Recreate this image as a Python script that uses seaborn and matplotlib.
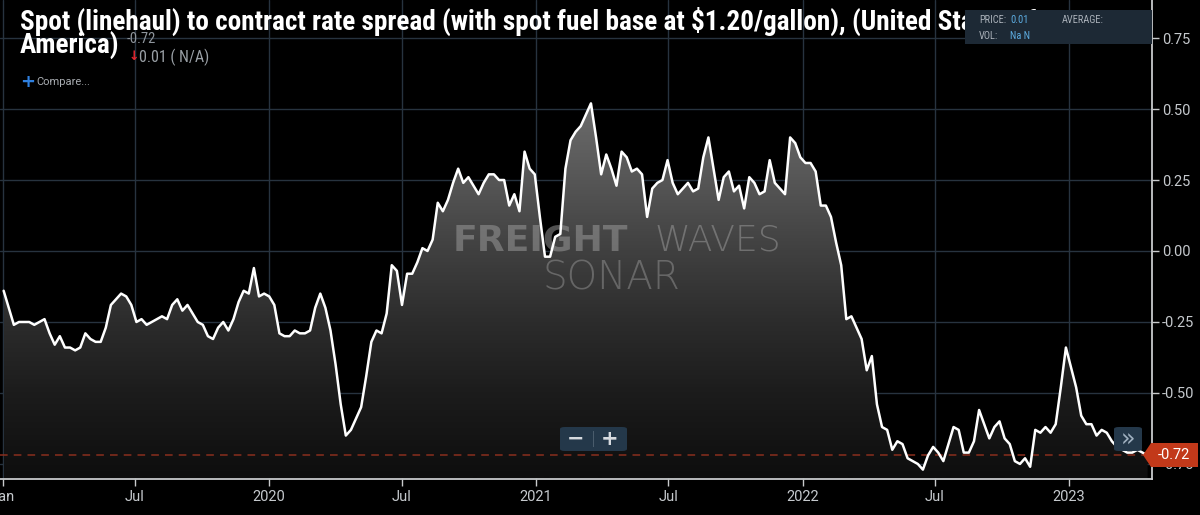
"""Spot (linehaul) to contract rate spread chart, SONAR dark style."""

import matplotlib

matplotlib.use("Agg")

import matplotlib.dates as mdates
import matplotlib.pyplot as plt
import numpy as np
import pandas as pd
import seaborn as sns
from matplotlib import font_manager
from matplotlib.colors import LinearSegmentedColormap
from matplotlib.patches import FancyBboxPatch, Polygon, Rectangle

# --- data (weekly values) ---
START_DATE = "2019-01-02"
SPREAD = [
    -0.14, -0.20, -0.26, -0.25, -0.25, -0.25, -0.26, -0.25, -0.24, -0.29,
    -0.33, -0.30, -0.34, -0.34, -0.35, -0.34, -0.29, -0.31, -0.32, -0.32,
    -0.27, -0.19, -0.17, -0.15, -0.16, -0.19, -0.25, -0.24, -0.26, -0.25,
    -0.24, -0.23, -0.24, -0.19, -0.17, -0.21, -0.19, -0.22, -0.25,
    -0.26, -0.30, -0.31, -0.27, -0.25, -0.28, -0.24, -0.18, -0.14, -0.15,
    -0.06, -0.16, -0.15, -0.16, -0.19, -0.29, -0.30, -0.30, -0.28, -0.29,
    -0.29, -0.28, -0.20, -0.15, -0.20, -0.28, -0.40, -0.54, -0.65, -0.63,
    -0.59, -0.55, -0.44, -0.32, -0.28, -0.29, -0.22, -0.05,
    -0.07, -0.19, -0.08, -0.08, -0.04, 0.01, 0.00, 0.04, 0.17, 0.14,
    0.18, 0.24, 0.29, 0.24, 0.26, 0.23, 0.20, 0.24, 0.27, 0.27,
    0.25, 0.25, 0.16, 0.20, 0.14, 0.35, 0.29, 0.27, 0.12, -0.02,
    -0.02, 0.05, 0.06, 0.29, 0.39, 0.42, 0.44, 0.48,
    0.52, 0.40, 0.27, 0.34, 0.29, 0.23, 0.35, 0.33, 0.28, 0.29,
    0.27, 0.12, 0.22, 0.24, 0.25, 0.32, 0.24, 0.20, 0.22, 0.24,
    0.21, 0.22, 0.33, 0.40, 0.29, 0.18, 0.26, 0.28, 0.21, 0.23,
    0.15, 0.26, 0.24, 0.20, 0.21, 0.32, 0.24, 0.22,
    0.20, 0.40, 0.38, 0.33, 0.31, 0.31, 0.28, 0.16, 0.16, 0.12,
    0.03, -0.05, -0.24, -0.23, -0.27, -0.31, -0.42, -0.37, -0.54, -0.62,
    -0.63, -0.70, -0.67, -0.68, -0.73, -0.74, -0.75, -0.77, -0.72, -0.69,
    -0.71, -0.74, -0.68, -0.62, -0.63, -0.71, -0.71, -0.67,
    -0.56, -0.61, -0.66, -0.62, -0.60, -0.66, -0.68, -0.74, -0.75, -0.73,
    -0.76, -0.63, -0.64, -0.62, -0.64, -0.61, -0.48, -0.34, -0.41, -0.48,
    -0.58, -0.61, -0.61, -0.65, -0.63, -0.64, -0.67, -0.69, -0.70, -0.71,
    -0.71, -0.70, -0.71, -0.72,
]
LAST_VALUE = -0.72

X_TICK_DATES = [
    "2019-01-01", "2019-07-01", "2020-01-01", "2020-07-01", "2021-01-01",
    "2021-07-01", "2022-01-01", "2022-07-01", "2023-01-01",
]
X_TICK_LABELS = ["Jan", "Jul", "2020", "Jul", "2021", "Jul", "2022", "Jul", "2023"]
Y_TICKS = [-0.75, -0.50, -0.25, 0.00, 0.25, 0.50, 0.75]

TITLE_LINE1 = "Spot (linehaul) to contract rate spread (with spot fuel base at $1.20/gallon), (United States of"
TITLE_LINE2 = "America)"

# --- style ---
W, H = 1200, 515
X_LIM = ("2018-12-28", "2023-04-25")
Y_LIM = (-0.803, 0.884)
GRID = "#27333f"
AXIS = "#c8cacc"
TICK_TXT = "#c5c9cd"
PANEL = "#24384a"

installed = {f.name for f in font_manager.fontManager.ttflist}
NARROW = next(
    (f for f in ["Roboto Condensed", "Liberation Sans Narrow", "DejaVu Sans Condensed"] if f in installed),
    "Roboto",
)


def fx(px):
    return px / W


def fy(py):
    return 1 - py / H


sns.set_theme(style="dark", rc={"axes.facecolor": "black", "figure.facecolor": "black"})
plt.rcParams["font.family"] = ["Roboto", "DejaVu Sans"]
plt.rcParams["axes.unicode_minus"] = False

df = pd.DataFrame(
    {
        "date": pd.date_range(START_DATE, periods=len(SPREAD), freq="7D"),
        "spread": SPREAD,
    }
)

fig = plt.figure(figsize=(W / 100, H / 100), dpi=100)
fig.patch.set_facecolor("black")
ax = fig.add_axes([0, 36 / H, 1152 / W, 479 / H])
ax.set_facecolor("black")

# gradient area under the line
xnum = mdates.date2num(df["date"])
verts = [(xnum[0], Y_LIM[0])] + list(zip(xnum, df["spread"])) + [(xnum[-1], Y_LIM[0])]
clip = Polygon(verts, closed=True, facecolor="none", edgecolor="none")
ax.add_patch(clip)
top = max(SPREAD)
stops = [(-0.80, "#0e0e0e"), (-0.50, "#1c1c1c"), (-0.25, "#2c2c2c"), (0.0, "#404040"), (0.25, "#565656"), (top, "#6c6c6c")]
cmap = LinearSegmentedColormap.from_list(
    "fill", [((v - stops[0][0]) / (top - stops[0][0]), c) for v, c in stops]
)
grad = np.linspace(1, 0, 300).reshape(-1, 1)
img = ax.imshow(
    grad, cmap=cmap, aspect="auto", origin="upper",
    extent=[xnum[0], xnum[-1], stops[0][0], top], zorder=1, interpolation="bilinear",
)
img.set_clip_path(clip)

# watermark
ax.text(0.393, 0.477, "FREIGHT", transform=ax.transAxes, fontsize=26, fontweight="bold",
        color="#a0a0a0", alpha=0.5, ha="left", va="baseline", zorder=3, family="DejaVu Sans")
ax.text(0.568, 0.477, "WAVES", transform=ax.transAxes, fontsize=26, fontweight="light",
        color="#a0a0a0", alpha=0.5, ha="left", va="baseline", zorder=3, family="DejaVu Sans")
ax.text(0.531, 0.395, "SONAR", transform=ax.transAxes, fontsize=28, fontweight="light",
        color="#a0a0a0", alpha=0.45, ha="center", va="baseline", zorder=3, family="DejaVu Sans")

# last-value dashed line and series
ax.axhline(LAST_VALUE, color="#8a2e1e", linestyle=(0, (5, 4)), linewidth=1.1, zorder=2)
sns.lineplot(data=df, x="date", y="spread", color="white", linewidth=1.8, ax=ax, zorder=4, legend=False)

ax.set_xlim(pd.Timestamp(X_LIM[0]), pd.Timestamp(X_LIM[1]))
ax.set_ylim(*Y_LIM)
ax.set_xticks(pd.to_datetime(X_TICK_DATES))
ax.set_xticklabels(X_TICK_LABELS)
ax.set_yticks(Y_TICKS)
ax.set_yticklabels([f"{v:.2f}" for v in Y_TICKS])
ax.yaxis.tick_right()
ax.set_xlabel("")
ax.set_ylabel("")

ax.grid(True, color=GRID, linewidth=1.0, zorder=0)
ax.set_axisbelow(True)
for side in ["top", "left"]:
    ax.spines[side].set_visible(False)
for side in ["bottom", "right"]:
    ax.spines[side].set_visible(True)
    ax.spines[side].set_color(AXIS)
    ax.spines[side].set_linewidth(1.3)
ax.tick_params(axis="x", direction="out", length=5, width=1, color=AXIS,
               labelcolor=TICK_TXT, labelsize=10.5, pad=3, bottom=True)
ax.tick_params(axis="y", direction="out", length=5, width=1, color=AXIS,
               labelcolor=TICK_TXT, labelsize=10.5, pad=2, right=True, left=False)

# title and header info (the title runs behind the price panel, as in the source)
fig.text(fx(20), fy(30), TITLE_LINE1, color="white", fontsize=19.6, fontweight="bold",
         family=[NARROW, "DejaVu Sans"], ha="left", va="baseline", zorder=4)
fig.text(fx(20), fy(54), TITLE_LINE2, color="white", fontsize=19.6, fontweight="bold",
         family=[NARROW, "DejaVu Sans"], ha="left", va="baseline", zorder=4)
fig.text(fx(127), fy(39), "-0.72", color="#8e959c", fontsize=10.5,
         family=[NARROW, "DejaVu Sans"], ha="left", va="center", zorder=4)
fig.text(fx(129), fy(57), "\u2193", color="#e3262e", fontsize=9, fontweight="bold",
         family="DejaVu Sans", ha="left", va="center", zorder=4)
fig.text(fx(139), fy(57), "0.01 ( N/A)", color="#9aa0a6", fontsize=11.5,
         family=[NARROW, "DejaVu Sans"], ha="left", va="center", zorder=4)
fig.text(fx(20), fy(82), "+", color="#2f80e0", fontsize=13, fontweight="bold",
         family="DejaVu Sans", ha="left", va="center", zorder=4)
fig.text(fx(36), fy(82), "Compare...", color="#a9adb2", fontsize=8,
         family="Roboto", ha="left", va="center", zorder=4)

# price panel
fig.add_artist(Rectangle((fx(965), fy(44)), fx(187), 34 / H, transform=fig.transFigure,
                         facecolor="#1d2935", edgecolor="none", zorder=5))
for px, py, txt, col in [
    (979, 20, "PRICE:", "#a9b0b8"), (1010, 20, "0.01", "#5dade2"),
    (1062, 20, "AVERAGE:", "#a9b0b8"), (979, 36, "VOL:", "#a9b0b8"), (1010, 36, "Na N", "#5dade2"),
]:
    fig.text(fx(px), fy(py), txt, color=col, fontsize=7.5, family=[NARROW, "DejaVu Sans"],
             ha="left", va="center", zorder=6)

# zoom buttons
fig.add_artist(FancyBboxPatch((fx(560), fy(451)), fx(67), 24 / H, boxstyle="round,pad=0,rounding_size=0.004",
                              transform=fig.transFigure, facecolor=PANEL, edgecolor="none", zorder=5))
fig.add_artist(Rectangle((fx(593), fy(447)), fx(1), 16 / H, transform=fig.transFigure,
                         facecolor="#4a5c6c", edgecolor="none", zorder=6))
fig.text(fx(576), fy(439), "\u2212", color="#d6dadf", fontsize=15, fontweight="bold",
         family="DejaVu Sans", ha="center", va="center", zorder=6)
fig.text(fx(610), fy(439), "+", color="#d6dadf", fontsize=15, fontweight="bold",
         family="DejaVu Sans", ha="center", va="center", zorder=6)
fig.add_artist(FancyBboxPatch((fx(1114), fy(451)), fx(28), 24 / H, boxstyle="round,pad=0,rounding_size=0.004",
                              transform=fig.transFigure, facecolor=PANEL, edgecolor="none", zorder=5))
fig.text(fx(1128), fy(440), "\u00bb", color="#9fb0c0", fontsize=17,
         family="DejaVu Sans", ha="center", va="center", zorder=6)

# last value tag on the right axis
tag = [(1143, 455), (1151, 443), (1198, 443), (1198, 467), (1151, 467)]
fig.add_artist(Polygon([(fx(a), fy(b)) for a, b in tag], closed=True, transform=fig.transFigure,
                       facecolor="#c2391a", edgecolor="none", zorder=5))
fig.text(fx(1174), fy(455), f"{LAST_VALUE:.2f}", color="white", fontsize=10.5,
         family="Roboto", ha="center", va="center", zorder=6)

fig.savefig("out.png", dpi=100, facecolor="black")
plt.close(fig)
